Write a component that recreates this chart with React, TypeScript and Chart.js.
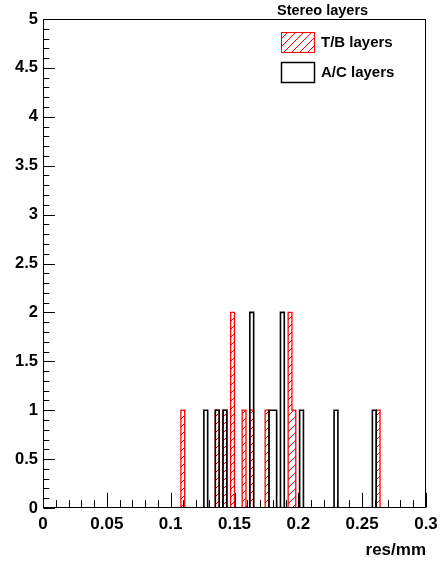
import React, { useEffect, useRef } from 'react';
import { Chart, registerables } from 'chart.js';

Chart.register(...registerables);

// Histogram definition (res/mm), 100 bins from 0 to 0.3
const xMin = 0;
const xMax = 0.3;
const nBins = 100;

// T/B layers: bin centres and entries
const tbCenters = [0.1095, 0.1365, 0.1425, 0.1485, 0.1575, 0.1635, 0.1755, 0.1935, 0.1965, 0.2625];
const tbCounts = [1, 1, 1, 2, 1, 1, 1, 2, 1, 1];

// A/C layers: bin centres and entries
const acCenters = [0.1275, 0.1365, 0.1425, 0.1635, 0.1785, 0.1815, 0.1875, 0.2025, 0.2295, 0.2595];
const acCounts = [1, 1, 1, 2, 1, 1, 2, 1, 1, 1];

const xTickValues = [0, 0.05, 0.1, 0.15, 0.2, 0.25, 0.3];
const yTickValues = [0, 0.5, 1, 1.5, 2, 2.5, 3, 3.5, 4, 4.5, 5];

const legendHeader = 'Stereo layers';
const legendLabels = ['T/B layers', 'A/C layers'];
const xTitle = 'res/mm';

const FONT = "'Liberation Sans', Arial, Helvetica, sans-serif";

function buildSteps(centers: number[], counts: number[]) {
  const bw = (xMax - xMin) / nBins;
  const h = new Array(nBins).fill(0);
  centers.forEach((c, k) => {
    const idx = Math.floor((c - xMin) / bw);
    if (idx >= 0 && idx < nBins) h[idx] += counts[k];
  });
  const pts = h.map((v, i) => ({ x: xMin + i * bw, y: v }));
  pts.push({ x: xMax, y: 0 });
  return pts;
}

function makeHatch(color: string) {
  const c = document.createElement('canvas');
  const s = 8;
  c.width = s;
  c.height = s;
  const g = c.getContext('2d')!;
  g.fillStyle = color;
  for (let i = 0; i < s; i++) {
    g.fillRect(i, s - 1 - i, 1, 1);
  }
  return g.createPattern(c, 'repeat')!;
}

export default function App() {
  const ref = useRef<HTMLCanvasElement | null>(null);

  useEffect(() => {
    if (!ref.current) return;
    const hatch = makeHatch('#ff0000');

    const decor = {
      id: 'rootDecor',
      afterDatasetsDraw(chart: any) {
        const { ctx, chartArea } = chart;
        const xs = chart.scales.x;
        const ys = chart.scales.y;
        ctx.save();
        ctx.strokeStyle = '#000';
        ctx.lineWidth = 1;
        // frame
        ctx.strokeRect(
          Math.round(chartArea.left) + 0.5,
          Math.round(chartArea.top) + 0.5,
          Math.round(chartArea.right - chartArea.left) - 1,
          Math.round(chartArea.bottom - chartArea.top) - 1
        );
        const fh = chartArea.bottom - chartArea.top;
        const fw = chartArea.right - chartArea.left;
        const bottom = Math.round(chartArea.bottom) - 0.5;
        const left = Math.round(chartArea.left) + 0.5;
        ctx.beginPath();
        // x ticks (inside)
        for (let k = 0; k <= 30; k++) {
          const v = k * 0.01;
          const px = Math.round(xs.getPixelForValue(v)) + 0.5;
          const len = k % 5 === 0 ? fh * 0.03 : fh * 0.015;
          ctx.moveTo(px, bottom);
          ctx.lineTo(px, bottom - len);
        }
        // y ticks (inside)
        for (let k = 0; k <= 50; k++) {
          const v = k * 0.1;
          const py = Math.round(ys.getPixelForValue(v)) + 0.5;
          const len = k % 5 === 0 ? fw * 0.03 : fw * 0.015;
          ctx.moveTo(left, py);
          ctx.lineTo(left + len, py);
        }
        ctx.stroke();
        ctx.restore();
      },
      afterDraw(chart: any) {
        const { ctx } = chart;
        ctx.save();
        ctx.fillStyle = '#000';
        ctx.font = `bold 14.5px ${FONT}`;
        ctx.textBaseline = 'middle';
        ctx.textAlign = 'left';
        ctx.fillText(legendHeader, 277, 11);
        // T/B entry
        ctx.fillStyle = hatch;
        ctx.fillRect(281, 32, 33, 20);
        ctx.strokeStyle = '#ff0000';
        ctx.lineWidth = 1;
        ctx.strokeRect(281.5, 32.5, 33, 20);
        // A/C entry
        ctx.strokeStyle = '#000';
        ctx.lineWidth = 1.5;
        ctx.strokeRect(281.5, 62.5, 33, 20);
        ctx.fillStyle = '#000';
        ctx.font = `bold 15px ${FONT}`;
        ctx.fillText(legendLabels[0], 321, 42.5);
        ctx.fillText(legendLabels[1], 321, 72.5);
        ctx.restore();
      },
    };

    const chart = new Chart(ref.current, {
      type: 'line',
      data: {
        datasets: [
          {
            label: legendLabels[1],
            data: buildSteps(acCenters, acCounts),
            borderColor: '#000000',
            borderWidth: 1.6,
            backgroundColor: 'rgba(0,0,0,0)',
            fill: false,
            stepped: 'before',
            pointRadius: 0,
            order: 0,
          },
          {
            label: legendLabels[0],
            data: buildSteps(tbCenters, tbCounts),
            borderColor: '#ff0000',
            borderWidth: 1.3,
            backgroundColor: hatch as any,
            fill: 'origin',
            stepped: 'before',
            pointRadius: 0,
            order: 1,
          },
        ],
      },
      options: {
        responsive: false,
        animation: false,
        layout: { padding: { top: 19, right: 15, left: 0, bottom: 0 } },
        plugins: {
          legend: { display: false },
          tooltip: { enabled: false },
        },
        scales: {
          x: {
            type: 'linear',
            min: xMin,
            max: xMax,
            grid: { display: false, drawTicks: false },
            border: { display: false },
            afterBuildTicks: (s: any) => {
              s.ticks = xTickValues.map((v) => ({ value: v }));
            },
            afterFit: (s: any) => {
              s.height = 54;
              s.paddingLeft = 0;
              s.paddingRight = 0;
            },
            ticks: {
              autoSkip: false,
              maxRotation: 0,
              padding: 6,
              color: '#000',
              font: { family: FONT, weight: 'bold', size: 17 },
              callback: (v: any) => String(v),
            },
            title: {
              display: true,
              text: xTitle,
              align: 'end',
              color: '#000',
              font: { family: FONT, weight: 'bold', size: 17 },
              padding: { top: 0, bottom: 1 },
            },
          },
          y: {
            type: 'linear',
            min: 0,
            max: 5,
            grid: { display: false, drawTicks: false },
            border: { display: false },
            afterBuildTicks: (s: any) => {
              s.ticks = yTickValues.map((v) => ({ value: v }));
            },
            afterFit: (s: any) => {
              s.width = 43;
              s.paddingTop = 0;
              s.paddingBottom = 0;
            },
            ticks: {
              padding: 5,
              color: '#000',
              font: { family: FONT, weight: 'bold', size: 16.5 },
              callback: (v: any) => String(v),
            },
          },
        },
      },
      plugins: [decor],
    });

    return () => chart.destroy();
  }, []);

  return (
    <div style={{ position: 'fixed', left: 0, top: 0, width: 441, height: 562, background: '#fff' }}>
      <canvas ref={ref} width={441} height={562} style={{ display: 'block' }} />
    </div>
  );
}
